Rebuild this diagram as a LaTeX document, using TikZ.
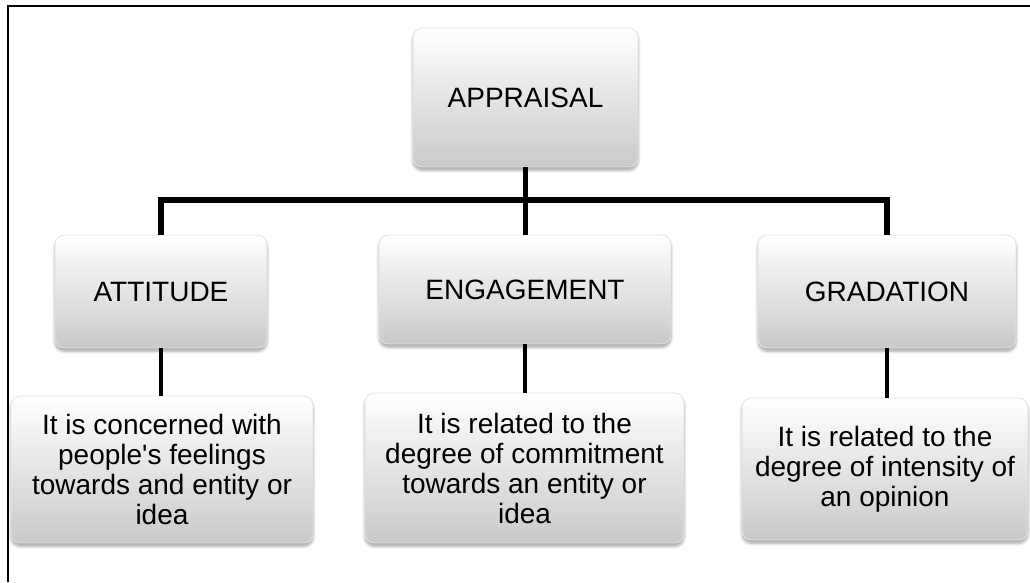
\documentclass[tikz,border=0pt]{standalone}
\usepackage{fontspec}
\setmainfont{Liberation Sans}[Ligatures=TeXOff]
\usetikzlibrary{shadows.blur}
\begin{document}
\begin{tikzpicture}[x=0.75pt,y=-0.75pt,
  glossbox/.style={rectangle, rounded corners=7pt, inner sep=0pt, outer sep=0pt,
    draw=gray!22, line width=0.6pt,
    top color=white, middle color=gray!6, bottom color=gray!42,
    blur shadow={shadow xshift=0pt, shadow yshift=-2.5pt, shadow blur steps=6, shadow opacity=35},
    align=center, font=\fontsize{21}{22.5}\selectfont},
  conn/.style={line width=3.9pt, line join=miter},
  subconn/.style={line width=3.6pt},
  frame/.style={line width=1.5pt}]
\useasboundingbox (0,0) rectangle (1030,582);

% outer frame (top and left edges)
\coordinate (frameBL) at (8,582);
\coordinate (frameTL) at (8,6);
\coordinate (frameTR) at (1030,6);
\draw[frame] (frameBL) -- (frameTL) -- (frameTR);

% root
\node[glossbox, minimum width=168.75pt, minimum height=104.25pt] (app) at (525.5,97.5) {APPRAISAL};

% categories
\node[glossbox, minimum width=159pt, minimum height=84.75pt] (att) at (161,291.5) {ATTITUDE};
\node[glossbox, minimum width=219pt, minimum height=81.75pt] (eng) at (525,289.5) {ENGAGEMENT};
\node[glossbox, minimum width=193.5pt, minimum height=84.75pt] (gra) at (887,291.5) {GRADATION};

% descriptions
\node[glossbox, minimum width=226.5pt, minimum height=110.25pt] (d1) at (162,469.5)
  {It is concerned with\\people's feelings\\towards and entity or\\idea};
\node[glossbox, minimum width=239.25pt, minimum height=112.5pt] (d2) at (524.5,468)
  {It is related to the\\degree of commitment\\towards an entity or\\idea};
\node[glossbox, minimum width=214.5pt, minimum height=106.5pt] (d3) at (885,469)
  {It is related to the\\degree of intensity of\\an opinion};

% tree connectors
\coordinate (bus) at (525,200);
\draw[conn] (att.north) |- (bus) -| (gra.north);
\draw[conn] (app.south) -- (app.south |- eng.north);

\draw[subconn] (att.south) -- (att.south |- d1.north);
\draw[subconn] (eng.south) -- (eng.south |- d2.north);
\draw[subconn] (gra.south) -- (gra.south |- d3.north);
\end{tikzpicture}
\end{document}
